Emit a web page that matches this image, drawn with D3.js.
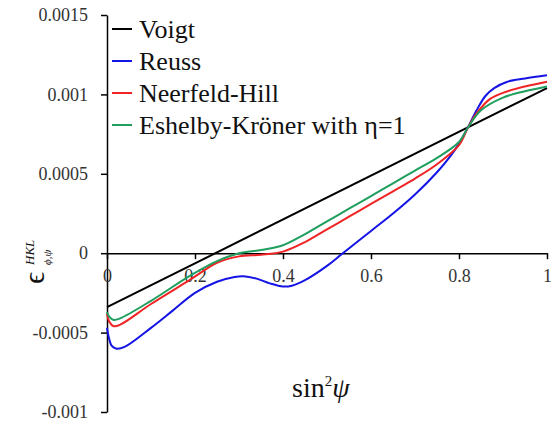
<!DOCTYPE html>
<html>
<head>
<meta charset="utf-8">
<script src="https://cdn.jsdelivr.net/npm/d3@7"></script>
</head>
<body style="margin:0">
<svg id="chart" width="551" height="421"></svg>
<script>
// sin^2(psi) positions for each series
const voigtS = [0, 1];
const voigtV = [-0.00034, 0.00104];

const reussS = [0, 0.005, 0.01, 0.02, 0.04, 0.1, 0.15, 0.2, 0.25, 0.29, 0.31, 0.34, 0.37, 0.4, 0.42, 0.45, 0.5, 0.536, 0.6, 0.65, 0.7, 0.75, 0.78, 0.8, 0.82, 0.84, 0.86, 0.88, 0.91, 0.95, 1];
const reussV = [-0.00047, -0.00054, -0.00058, -0.0006, -0.00059, -0.00047, -0.00036, -0.00025, -0.00018, -0.00015, -0.000145, -0.00016, -0.00019, -0.00021, -0.000205, -0.00017, -0.00008, 0, 0.00014, 0.00025, 0.00037, 0.00051, 0.00061, 0.00069, 0.00079, 0.0009, 0.00099, 0.00104, 0.00108, 0.0011, 0.00112];

const hillS = [0, 0.005, 0.015, 0.03, 0.1, 0.19, 0.25, 0.3, 0.35, 0.4, 0.45, 0.5, 0.55, 0.6, 0.65, 0.7, 0.75, 0.8, 0.82, 0.84, 0.87, 0.9, 0.95, 1];
const hillV = [-0.00038, -0.00043, -0.00046, -0.00045, -0.00032, -0.000165, -0.00006, -0.00002, -0.00001, 0.00001, 0.00007, 0.00015, 0.00023, 0.00031, 0.00039, 0.00047, 0.00056, 0.00068, 0.00079, 0.00088, 0.00097, 0.00101, 0.00105, 0.00108];

const eshelbyS = [0, 0.005, 0.015, 0.03, 0.1, 0.19, 0.25, 0.3, 0.35, 0.4, 0.45, 0.5, 0.55, 0.6, 0.65, 0.7, 0.75, 0.8, 0.82, 0.85, 0.9, 0.95, 1];
const eshelbyV = [-0.00037, -0.0004, -0.00042, -0.00041, -0.0003, -0.00014, -0.00005, 0, 0.00002, 0.00005, 0.00012, 0.0002, 0.00028, 0.00036, 0.00044, 0.00052, 0.0006, 0.0007, 0.00079, 0.0009, 0.00098, 0.00102, 0.00105];

const seriesNames = ["Voigt", "Reuss", "Neerfeld-Hill", "Eshelby-Kröner with η=1"];
const seriesColors = ["#000000", "#1414e6", "#f02424", "#1f9e5e"];

const xTicks = [0, 0.2, 0.4, 0.6, 0.8, 1];
const yTicks = [-0.001, -0.0005, 0, 0.0005, 0.001, 0.0015];

const series = [
  [voigtS, voigtV],
  [reussS, reussV],
  [hillS, hillV],
  [eshelbyS, eshelbyV]
].map(([s, v], i) => ({
  name: seriesNames[i],
  color: seriesColors[i],
  points: s.map((x, j) => ({ x, y: v[j] }))
}));

const serif = '"Liberation Serif", monospace';
const yFmt = d => d === 0 ? "0" : String(+d.toFixed(4));
const svg = d3.select("#chart");

const x = d3.scaleLinear().domain([0, 1]).range([107, 547]);
const y = d3.scaleLinear().domain([-0.001, 0.0015]).range([412, 15]);

// y axis
const yAxis = svg.append("g")
  .attr("transform", `translate(${x(0)},0)`)
  .call(d3.axisLeft(y).tickValues(yTicks).tickSize(6).tickSizeOuter(0).tickFormat(yFmt));
yAxis.attr("font-family", null).attr("font-size", null);
yAxis.select(".domain").attr("stroke-width", 1.5);
yAxis.selectAll(".tick line").attr("stroke-width", 1.5);
yAxis.selectAll("text")
  .attr("x", -19)
  .attr("font-size", 18)
  .attr("fill", "#333")
  .style("font-family", serif)
  .text(null)
  .append("tspan")
  .text(d => yFmt(d));

// x axis at zero
const xAxis = svg.append("g")
  .attr("transform", `translate(0,${y(0)})`)
  .call(d3.axisBottom(x).tickValues(xTicks).tickSize(6).tickSizeOuter(0)
    .tickFormat(d => String(d)));
xAxis.attr("font-family", null).attr("font-size", null);
xAxis.select(".domain").attr("stroke-width", 1.5);
xAxis.selectAll(".tick line").attr("stroke-width", 1.5);
xAxis.selectAll("text")
  .attr("y", 29)
  .attr("dy", 0)
  .attr("font-size", 18)
  .attr("fill", "#333")
  .style("font-family", serif)
  .text(null)
  .append("tspan")
  .text(d => String(d));

// curves
const line = d3.line()
  .x(d => x(d.x))
  .y(d => y(d.y))
  .curve(d3.curveCatmullRom.alpha(0.5));

svg.append("g")
  .selectAll("path")
  .data(series)
  .enter()
  .append("path")
  .attr("d", d => line(d.points))
  .attr("fill", "none")
  .attr("stroke", d => d.color)
  .attr("stroke-width", 2);

// legend
const legend = svg.append("g");
const rowY = d3.scalePoint().domain(seriesNames).range([29, 125]);
seriesNames.forEach((name, i) => {
  legend.append("line")
    .attr("x1", 112).attr("x2", 132)
    .attr("y1", rowY(name)).attr("y2", rowY(name))
    .attr("stroke", seriesColors[i])
    .attr("stroke-width", 2);
  legend.append("text")
    .attr("x", 139)
    .attr("y", rowY(name) + 8.5)
    .attr("fill", "#111")
    .attr("font-size", 26)
    .style("font-family", serif)
    .append("tspan")
    .text(name);
});

// x label
const xl = svg.append("text")
  .attr("x", 292)
  .attr("y", 397)
  .attr("fill", "#111")
  .attr("font-size", 28)
  .style("font-family", serif);
xl.append("tspan").text("sin");
xl.append("tspan").attr("font-size", 15).attr("dy", -11).text("2");
xl.append("tspan").attr("font-style", "italic").attr("dy", 11).text("ψ");

// y label
const yl = svg.append("text")
  .attr("transform", "translate(44,284) rotate(-90)")
  .attr("fill", "#111")
  .style("font-family", serif);
yl.append("tspan").attr("font-size", 30).text("ϵ");
yl.append("tspan").attr("x", 19).attr("dy", -10).attr("font-size", 13).attr("font-style", "italic").text("HKL");
yl.append("tspan").attr("x", 19).attr("dy", 17).attr("font-size", 11).attr("font-style", "italic").text("ϕ,ψ");
</script>
</body>
</html>
